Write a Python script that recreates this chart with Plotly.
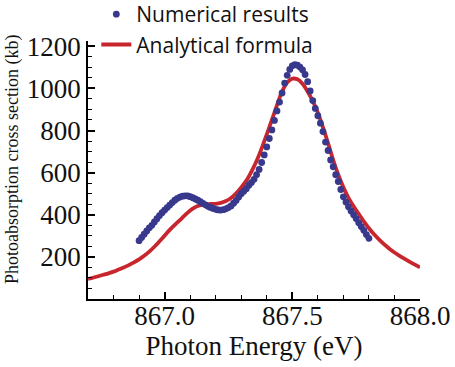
import plotly.graph_objects as go

# Numerical results (dots)
num_x = [866.90, 866.91, 866.92, 866.93, 866.94, 866.95, 866.96, 866.97, 866.98, 866.99,
         867.00, 867.01, 867.02, 867.03, 867.04, 867.05, 867.06, 867.07, 867.08, 867.09,
         867.10, 867.11, 867.12, 867.13, 867.14, 867.15, 867.16, 867.17, 867.18, 867.19,
         867.20, 867.21, 867.22, 867.23, 867.24, 867.25, 867.26, 867.27, 867.28, 867.29,
         867.30, 867.31, 867.32, 867.33, 867.34, 867.35, 867.36, 867.37, 867.38, 867.39,
         867.40, 867.41, 867.42, 867.43, 867.44, 867.45, 867.46, 867.47, 867.48, 867.49,
         867.50, 867.51, 867.52, 867.53, 867.54, 867.55, 867.56, 867.57, 867.58, 867.59,
         867.60, 867.61, 867.62, 867.63, 867.64, 867.65, 867.66, 867.67, 867.68, 867.69,
         867.70, 867.71, 867.72, 867.73, 867.74, 867.75, 867.76, 867.77, 867.78, 867.79,
         867.80]
num_y = [277, 292, 308, 323, 338, 350, 366, 381, 396, 410,
         422, 434, 446, 458, 469, 478, 484, 488, 490, 490,
         486, 481, 475, 469, 462, 454, 447, 440, 435, 430,
         426, 423, 422, 424, 428, 434, 442, 455, 468, 484,
         500, 512, 524, 540, 553, 568, 590, 615, 648, 684,
         722, 762, 803, 848, 893, 935, 978, 1025, 1062, 1090,
         1107, 1113, 1110, 1101, 1088, 1066, 1032, 988, 942, 905,
         870, 835, 795, 745, 705, 660, 628, 590, 558, 520,
         485, 460, 438, 418, 400, 382, 362, 344, 326, 306,
         288]

# Analytical formula (line)
ana_x = [866.70, 866.72, 866.74, 866.76, 866.78, 866.80, 866.82, 866.84, 866.86, 866.88,
         866.90, 866.92, 866.94, 866.96, 866.98, 867.00, 867.02, 867.04, 867.06, 867.08,
         867.10, 867.12, 867.14, 867.16, 867.18, 867.20, 867.22, 867.24, 867.26, 867.28,
         867.30, 867.32, 867.34, 867.36, 867.38, 867.40, 867.42, 867.44, 867.46, 867.48,
         867.50, 867.52, 867.54, 867.56, 867.58, 867.60, 867.62, 867.64, 867.66, 867.68,
         867.70, 867.72, 867.74, 867.76, 867.78, 867.80, 867.82, 867.84, 867.86, 867.88,
         867.90, 867.92, 867.94, 867.96, 867.98, 868.00]
ana_y = [95, 101, 108, 115, 122, 130, 140, 150, 161, 174,
         188, 205, 225, 248, 274, 301, 328, 352, 375, 398,
         420, 436, 446, 450, 451, 452, 456, 465, 480, 502,
         530, 562, 605, 655, 715, 782, 850, 920, 985, 1028,
         1046, 1043, 1022, 985, 940, 885, 815, 740, 660, 590,
         530, 480, 440, 404, 369, 336, 307, 282, 259, 239,
         221, 205, 190, 176, 163, 150]

y_tick_vals = [200, 400, 600, 800, 1000, 1200]
x_tick_vals = [867.0, 867.5, 868.0]

serif = "Liberation Serif, Times New Roman, serif"
sans = "Open Sans, Liberation Sans, Arial, sans-serif"

fig = go.Figure()
fig.add_trace(go.Scatter(x=ana_x, y=ana_y, mode="lines", name="Analytical formula",
                         line=dict(color="#c8262e", width=3.8, shape="spline", smoothing=0.8)))
fig.add_trace(go.Scatter(x=num_x, y=num_y, mode="markers", name="Numerical results",
                         marker=dict(color="#38388c", size=6.8)))

fig.update_layout(
    width=455, height=367,
    margin=dict(l=88, r=35, t=41, b=68, autoexpand=False),
    paper_bgcolor="white", plot_bgcolor="white",
    showlegend=True,
    legend=dict(x=0.025, y=1.182, xanchor="left", yanchor="top", traceorder="reversed",
                font=dict(family=sans, size=21, color="#111"), bgcolor="rgba(0,0,0,0)",
                tracegroupgap=0, itemwidth=30),
    annotations=[dict(text="Photoabsorption cross section (kb)",
                      x=(12 - 88) / 332, y=(299 - 160) / 258,
                      xref="paper", yref="paper", xanchor="center", yanchor="middle",
                      showarrow=False, textangle=-90,
                      font=dict(family=serif, size=18, color="#111"))],
)

fig.update_xaxes(range=[866.7, 868.0], tickvals=x_tick_vals, tickformat=".1f",
                 ticks="inside", ticklen=7, tickwidth=1.5, tickcolor="black", automargin=False,
                 ticklabelstandoff=-8,
                 showline=True, linecolor="black", linewidth=1.5, showgrid=False, zeroline=False,
                 tickfont=dict(family=serif, size=27, color="#111"),
                 minor=dict(ticks="inside", ticklen=4, tickwidth=1.2, tickcolor="black",
                            dtick=0.1, tick0=866.7, showgrid=False),
                 title=dict(text="Photon Energy (eV)", font=dict(family=serif, size=27, color="#111"),
                            standoff=0))
fig.update_yaxes(range=[0, 1225], tickvals=y_tick_vals, automargin=False,
                 ticks="inside", ticklen=7, tickwidth=1.5, tickcolor="black",
                 showline=True, linecolor="black", linewidth=1.5, showgrid=False, zeroline=False,
                 tickfont=dict(family=serif, size=27, color="#111"),
                 minor=dict(ticks="inside", ticklen=4, tickwidth=1.2, tickcolor="black",
                            dtick=50, tick0=0, showgrid=False))

fig.write_html("out.html", config={"displayModeBar": False},
               post_script="document.body.style.margin='0';")
